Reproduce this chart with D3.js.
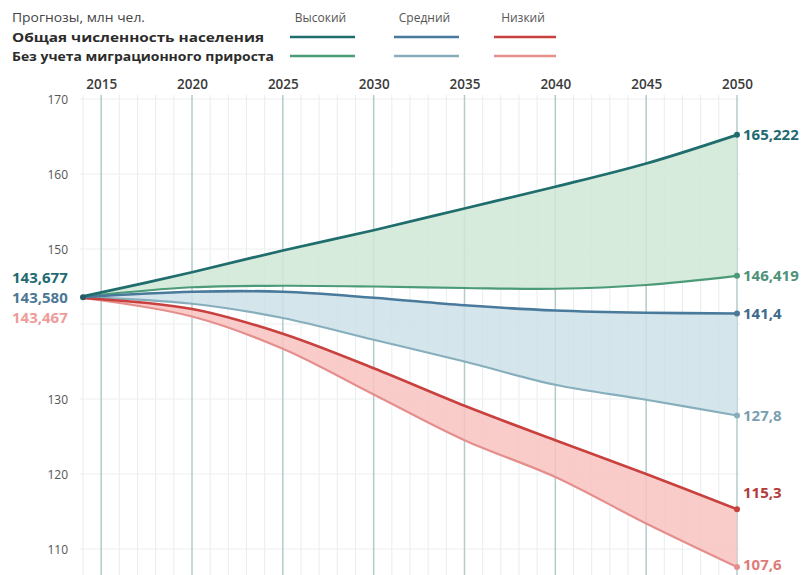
<!DOCTYPE html>
<html>
<head>
<meta charset="utf-8">
<script src="https://cdn.jsdelivr.net/npm/d3@7"></script>
<style>
  html, body { margin: 0; padding: 0; background: #ffffff; }
  svg { display: block; }
  text { font-family: "Open Sans", "DejaVu Sans", sans-serif; }
</style>
</head>
<body>
<svg id="chart" width="810" height="575"></svg>
<script>
// ---------- data ----------
const years      = [2014, 2020, 2025, 2030, 2035, 2040, 2045, 2050];
const highTotal  = [143.677, 146.9, 149.8, 152.5, 155.4, 158.3, 161.4, 165.222];
const highNoMig  = [143.677, 144.9, 145.1, 145.0, 144.8, 144.7, 145.2, 146.419];
const midTotal   = [143.58, 144.3, 144.3, 143.5, 142.5, 141.8, 141.5, 141.4];
const midNoMig   = [143.58, 142.7, 140.8, 137.9, 135.0, 131.9, 129.9, 127.8];
const lowTotal   = [143.467, 142.0, 138.7, 134.1, 129.1, 124.5, 120.0, 115.3];
const lowNoMig   = [143.467, 141.0, 136.7, 130.6, 124.5, 119.6, 113.4, 107.6];

const yearTicks  = [2015, 2020, 2025, 2030, 2035, 2040, 2045, 2050];
const yTickVals  = [110, 120, 130, 150, 160, 170];
const yGridVals  = [110, 120, 130, 140, 150, 160, 170];

const startLabels = ["143,677", "143,580", "143,467"];
const endLabels   = ["165,222", "146,419", "141,4", "127,8", "115,3", "107,6"];

const legendTitle = "Прогнозы, млн чел.";
const legendRows  = ["Общая численность населения", "Без учета миграционного прироста"];
const scenarios   = ["Высокий", "Средний", "Низкий"];

// ---------- styles ----------
const C = {
  highTotal: "#1f6d6d", highNoMig: "#4b9a78",
  midTotal:  "#4a7a9b", midNoMig:  "#86aebc",
  lowTotal:  "#c8413f", lowNoMig:  "#e58f8d",
  highFill:  "#cfe7d6", midFill: "#cde0e9", lowFill: "#f8c3c1"
};

const svg = d3.select("#chart");
const x = d3.scaleLinear().domain([2014, 2050]).range([83, 737]);
const y = d3.scaleLinear().domain([110, 170]).range([549, 99]);

// ---------- grid ----------
const grid = svg.append("g");
grid.selectAll("line.minor")
  .data(d3.range(2014, 2051).filter(v => v % 5 !== 0))
  .join("line")
  .attr("x1", d => x(d)).attr("x2", d => x(d))
  .attr("y1", 95).attr("y2", 575)
  .attr("stroke", "#e7eeee").attr("stroke-width", 1);
grid.selectAll("line.h")
  .data(yGridVals)
  .join("line")
  .attr("x1", 80).attr("x2", 740)
  .attr("y1", d => y(d)).attr("y2", d => y(d))
  .attr("stroke", "#eceff0").attr("stroke-width", 1);
grid.selectAll("line.major")
  .data(yearTicks)
  .join("line")
  .attr("x1", d => x(d)).attr("x2", d => x(d))
  .attr("y1", 95).attr("y2", 575)
  .attr("stroke", "#b3cbcb").attr("stroke-width", 1.5);

// ---------- axes ----------
const xAxis = svg.append("g")
  .attr("transform", "translate(0,89)")
  .call(d3.axisTop(x).tickValues(yearTicks).tickFormat(d3.format("d")).tickSize(0).tickPadding(0));
xAxis.select(".domain").remove();
xAxis.selectAll("text")
  .attr("font-family", "'Open Sans', sans-serif")
  .attr("font-size", 13.5).attr("font-weight", 600).attr("fill", "#3a3a3a");

const yAxis = svg.append("g")
  .attr("transform", "translate(68,0)")
  .call(d3.axisLeft(y).tickValues(yTickVals).tickFormat(d3.format("d")).tickSize(0).tickPadding(0));
yAxis.select(".domain").remove();
yAxis.selectAll("text")
  .attr("font-family", "'Open Sans', sans-serif")
  .attr("font-size", 12).attr("fill", "#555").attr("dy", "0.35em");

// ---------- bands ----------
const toPts = (arr) => years.map((yr, i) => ({ yr, v: arr[i] }));
const curve = d3.curveCatmullRom.alpha(0.5);
const band = (top, bot, fill) => {
  const data = years.map((yr, i) => ({ yr, a: top[i], b: bot[i] }));
  svg.append("path").datum(data)
    .attr("d", d3.area().curve(curve).x(d => x(d.yr)).y0(d => y(d.b)).y1(d => y(d.a)))
    .attr("fill", fill).attr("fill-opacity", 0.85);
};
band(highTotal, highNoMig, C.highFill);
band(midTotal, midNoMig, C.midFill);
band(lowTotal, lowNoMig, C.lowFill);

// ---------- lines ----------
const lineGen = d3.line().curve(curve).x(d => x(d.yr)).y(d => y(d.v));
const series = [
  { arr: highNoMig, color: C.highNoMig, w: 2.2 },
  { arr: midNoMig,  color: C.midNoMig,  w: 2.2 },
  { arr: lowNoMig,  color: C.lowNoMig,  w: 2.2 },
  { arr: lowTotal,  color: C.lowTotal,  w: 2.6 },
  { arr: midTotal,  color: C.midTotal,  w: 2.6 },
  { arr: highTotal, color: C.highTotal, w: 2.8 }
];
series.forEach(s => {
  svg.append("path").datum(toPts(s.arr))
    .attr("d", lineGen)
    .attr("fill", "none").attr("stroke", s.color)
    .attr("stroke-width", s.w).attr("stroke-linecap", "round");
});

// ---------- end dots ----------
const last = years.length - 1;
const endSeries = [
  { arr: highTotal, color: C.highTotal, label: endLabels[0], fill: "#1d6a70", dy: 0 },
  { arr: highNoMig, color: C.highNoMig, label: endLabels[1], fill: "#4d9277", dy: 0 },
  { arr: midTotal,  color: C.midTotal,  label: endLabels[2], fill: "#3e6a8c", dy: 0 },
  { arr: midNoMig,  color: C.midNoMig,  label: endLabels[3], fill: "#7a9fb0", dy: 0 },
  { arr: lowTotal,  color: C.lowTotal,  label: endLabels[4], fill: "#b23a39", dy: -17 },
  { arr: lowNoMig,  color: C.lowNoMig,  label: endLabels[5], fill: "#de7b79", dy: -2 }
];
endSeries.forEach(s => {
  svg.append("circle")
    .attr("cx", x(years[last])).attr("cy", y(s.arr[last]))
    .attr("r", 3).attr("fill", s.color);
  svg.append("text")
    .attr("x", x(years[last]) + 6).attr("y", y(s.arr[last]) + s.dy)
    .attr("dy", "0.35em")
    .attr("font-family", "'Open Sans', sans-serif")
    .attr("font-size", 15).attr("font-weight", 700)
    .attr("fill", s.fill).text(s.label);
});
svg.append("circle")
  .attr("cx", x(years[0])).attr("cy", y(midTotal[0]))
  .attr("r", 3).attr("fill", "#2a5a66");

// ---------- start labels ----------
const startFill = ["#1d6a70", "#4c7795", "#ee9b99"];
const startY = [y(highTotal[0]) - 19, y(midTotal[0]) + 1, y(lowTotal[0]) + 20];
startLabels.forEach((t, i) => {
  svg.append("text")
    .attr("x", 12).attr("y", startY[i]).attr("dy", "0.35em")
    .attr("font-family", "'Open Sans', sans-serif")
    .attr("font-size", 15).attr("font-weight", 700)
    .attr("fill", startFill[i]).text(t);
});

// ---------- legend ----------
const lg = svg.append("g");
lg.append("text").attr("x", 12).attr("y", 22)
  .attr("font-size", 12).attr("fill", "#444")
  .attr("textLength", 133).attr("lengthAdjust", "spacingAndGlyphs")
  .text(legendTitle);
const rowY = [37, 56];
const rowLen = [252, 262];
legendRows.forEach((t, i) => {
  lg.append("text").attr("x", 12).attr("y", rowY[i] + 5)
    .attr("font-size", 12.5).attr("font-weight", 700).attr("fill", "#2b2b2b")
    .attr("textLength", rowLen[i]).attr("lengthAdjust", "spacingAndGlyphs")
    .text(t);
});
const colX = [[290, 355], [394, 459], [494, 556]];
const colColors = [[C.highTotal, C.highNoMig], [C.midTotal, C.midNoMig], [C.lowTotal, C.lowNoMig]];
scenarios.forEach((s, i) => {
  lg.append("text")
    .attr("x", (colX[i][0] + colX[i][1]) / 2 - 2).attr("y", 22)
    .attr("text-anchor", "middle")
    .attr("font-size", 12).attr("fill", "#555").text(s);
  rowY.forEach((ry, j) => {
    lg.append("line")
      .attr("x1", colX[i][0]).attr("x2", colX[i][1])
      .attr("y1", ry).attr("y2", ry)
      .attr("stroke", colColors[i][j]).attr("stroke-width", 2.6);
  });
});
</script>
</body>
</html>
